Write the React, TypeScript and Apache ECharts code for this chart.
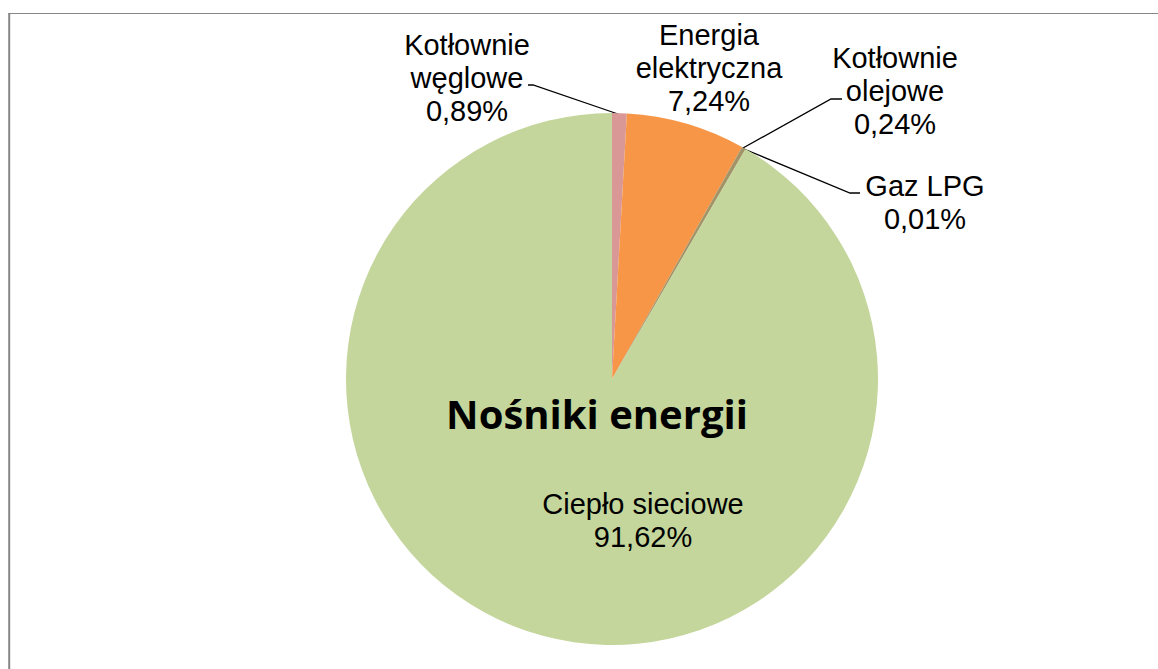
import React, { useEffect, useRef } from "react";
import * as echarts from "echarts";

const categories = [
  "Kotłownie\nwęglowe",
  "Energia\nelektryczna",
  "Kotłownie\nolejowe",
  "Gaz LPG",
  "Ciepło sieciowe",
];
const shares = [0.89, 7.24, 0.24, 0.01, 91.62];
const colors = ["#D99795", "#F79646", "#A39467", "#8C8C5A", "#C4D69B"];
const showLeader = [true, false, true, true, false];
const chartTitle = "Nośniki energii";

// label layout (page coordinates)
const labelPos: { x: number; y: number; line?: number[][] }[] = [
  { x: 467, y: 78, line: [[618, 114], [533, 85], [528, 85]] },
  { x: 709, y: 68 },
  { x: 895, y: 91, line: [[743, 148], [831, 99], [842, 99]] },
  { x: 925, y: 202, line: [[744, 149], [850, 193], [860, 193]] },
  { x: 643, y: 520 },
];

export default function App() {
  const ref = useRef<HTMLDivElement>(null);
  useEffect(() => {
    if (!ref.current) return;
    const chart = echarts.init(ref.current, null, { renderer: "svg" });
    chart.setOption({
      animation: false,
      backgroundColor: "#ffffff",
      graphic: [
        {
          type: "line",
          z: 100,
          shape: { x1: 8, y1: 13.5, x2: 1160, y2: 13.5 },
          style: { stroke: "#878787", lineWidth: 1.2 },
        },
        {
          type: "line",
          z: 100,
          shape: { x1: 9.2, y1: 13, x2: 9.2, y2: 680 },
          style: { stroke: "#878787", lineWidth: 2 },
        },
        {
          type: "text",
          z: 100,
          x: 597,
          y: 413,
          style: {
            text: chartTitle,
            fontFamily: "Open Sans",
            fontWeight: "bold",
            fontSize: 40,
            fill: "#000",
            textAlign: "center",
            textVerticalAlign: "middle",
          },
        },
      ],
      series: [
        {
          type: "pie",
          center: [612, 379],
          radius: 266,
          startAngle: 90,
          clockwise: true,
          avoidLabelOverlap: false,
          silent: true,
          emphasis: { disabled: true },
          itemStyle: { borderWidth: 0 },
          label: {
            show: true,
            position: "outside",
            fontFamily: "Liberation Sans",
            fontSize: 29,
            lineHeight: 33,
            color: "#000",
            align: "center",
            formatter: (p: any) =>
              `${p.name}\n${Number(p.value).toFixed(2).replace(".", ",")}%`,
          },
          labelLine: {
            show: true,
            lineStyle: { color: "#000", width: 1.3 },
          },
          labelLayout: (params: any) => {
            const lp = labelPos[params.dataIndex];
            const out: any = {
              x: lp.x,
              y: lp.y,
              align: "center",
              verticalAlign: "middle",
            };
            if (lp.line) out.labelLinePoints = lp.line;
            return out;
          },
          data: categories.map((name, i) => ({
            name,
            value: shares[i],
            itemStyle: { color: colors[i] },
            labelLine: { show: showLeader[i] },
          })),
        },
      ],
    });
    return () => chart.dispose();
  }, []);
  return (
    <div
      ref={ref}
      style={{ position: "fixed", left: 0, top: 0, width: 1158, height: 669 }}
    />
  );
}
